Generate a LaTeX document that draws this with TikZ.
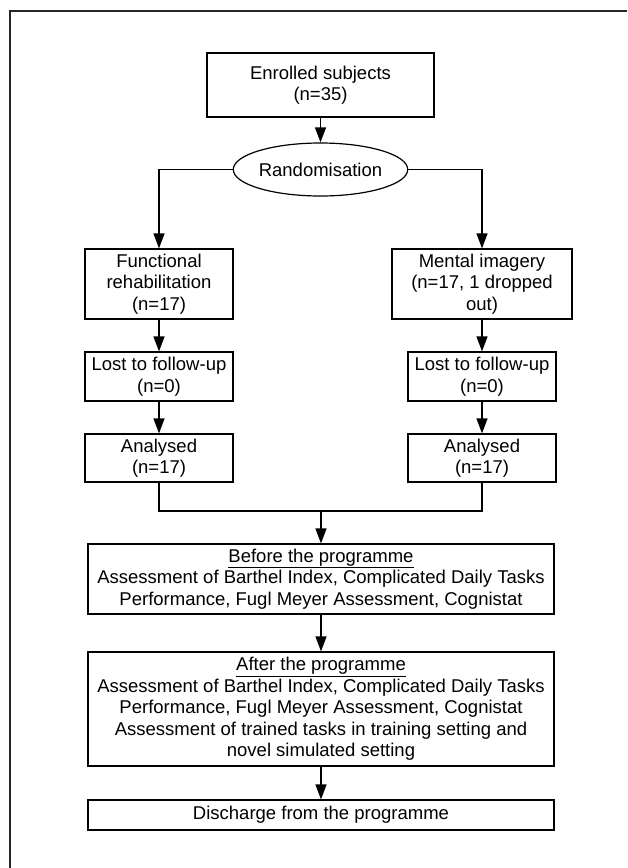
\documentclass[tikz,border=0pt]{standalone}
\usepackage{fontspec}
\setmainfont{Liberation Sans}
\usetikzlibrary{arrows.meta,shapes.geometric}
\begin{document}
\begin{tikzpicture}[x=1pt,y=-1pt,
  box/.style={draw=black,line width=1.2pt,rectangle,inner sep=0pt,align=center,
    font=\fontsize{18.5}{21.5}\selectfont},
  oval/.style={draw=black,line width=1.2pt,ellipse,inner sep=0pt,
    minimum width=133pt,minimum height=53pt,font=\fontsize{18.5}{21.5}\selectfont},
  conn/.style={draw=black,line width=1.2pt},
  arr/.style={conn,-{Triangle[length=15pt,width=11pt]}}]
\useasboundingbox (0,0) rectangle (627,868);
\fill[white] (0,0) rectangle (627,868);
\draw[line width=1.6pt,black!85] (10,868) -- (10,11) -- (627,11);

\node[box,minimum width=227pt,minimum height=64pt] (enr) at (320.5,85) {Enrolled subjects\\(n=35)};
\node[oval] (rand) at (320.5,169.5) {Randomisation};
\node[box,minimum width=148pt,minimum height=70pt] (fr) at (159,284) {Functional\\rehabilitation\\(n=17)};
\node[box,minimum width=180pt,minimum height=70pt] (mi) at (482,284) {Mental imagery\\(n=17, 1 dropped\\out)};
\node[box,minimum width=148pt,minimum height=49pt] (l1) at (159,376.5) {Lost to follow-up\\(n=0)};
\node[box,minimum width=148pt,minimum height=49pt] (l2) at (482,376.5) {Lost to follow-up\\(n=0)};
\node[box,minimum width=148pt,minimum height=48pt] (a1) at (159,458) {Analysed\\(n=17)};
\node[box,minimum width=148pt,minimum height=48pt] (a2) at (482,458) {Analysed\\(n=17)};
\node[box,minimum width=466pt,minimum height=70pt] (bef) at (321,579) {\underline{Before the programme}\\Assessment of Barthel Index, Complicated Daily Tasks\\Performance, Fugl Meyer Assessment, Cognistat};
\node[box,minimum width=466pt,minimum height=114pt] (aft) at (321,709) {\underline{After the programme}\\Assessment of Barthel Index, Complicated Daily Tasks\\Performance, Fugl Meyer Assessment, Cognistat\\Assessment of trained tasks in training setting and\\novel simulated setting};
\node[box,minimum width=466pt,minimum height=30pt] (dis) at (321,815) {Discharge from the programme};

\draw[arr] (enr.south -| rand.north) -- (rand.north);
\draw[arr] (rand.west) -| (fr.north);
\draw[arr] (rand.east) -| (mi.north);
\draw[arr] (fr.south) -- (l1.north);
\draw[arr] (l1.south) -- (a1.north);
\draw[arr] (mi.south) -- (l2.north);
\draw[arr] (l2.south) -- (a2.north);
\coordinate (mL) at (159,511);
\coordinate (mC) at (321,511);
\draw[conn] (a1.south) -- (mL) -| (a2.south);
\draw[arr] (mC) -- (bef.north);
\draw[arr] (aft.north |- bef.south) -- (aft.north);
\draw[arr] (dis.north |- aft.south) -- (dis.north);
\end{tikzpicture}
\end{document}
